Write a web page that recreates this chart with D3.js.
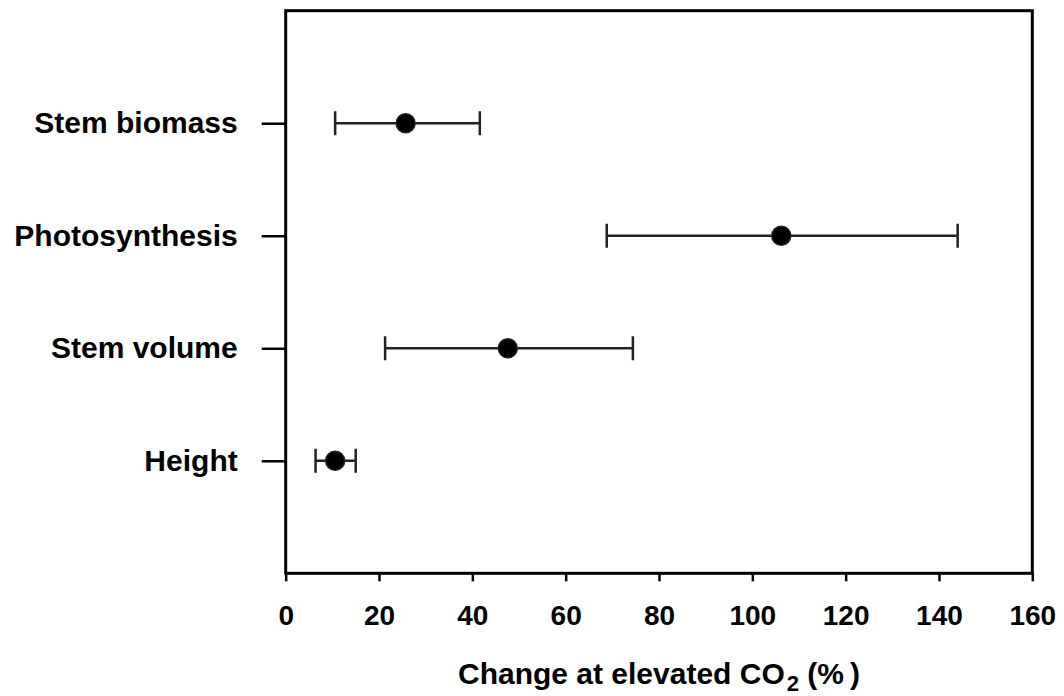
<!DOCTYPE html>
<html>
<head>
<meta charset="utf-8">
<script src="https://cdn.jsdelivr.net/npm/d3@7"></script>
<style>
    body { margin: 0; background: #fff; }
    text { font-family: "Liberation Sans", Arial, sans-serif; font-weight: bold; fill: #000; }
</style>
</head>
<body>
<div class="canvas"></div>
<script>
// data (top to bottom)
const categories = ["Stem biomass", "Photosynthesis", "Stem volume", "Height"]
const means = [25.7, 106.2, 47.6, 10.6]
const lower = [10.6, 68.8, 21.3, 6.4]
const upper = [41.6, 144.0, 74.4, 15.0]
const xTicks = [0, 20, 40, 60, 80, 100, 120, 140, 160]

const data = categories.map((c, i) => ({
    cat: c,
    mean: means[i],
    lo: lower[i],
    hi: upper[i]
}))

const svg = d3.select(".canvas")
    .append("svg")
    .attr("width", 1064)
    .attr("height", 696)

const margin = { top: 10.7, left: 285.7, right: 31.7, bottom: 122.7 }
const graphWidth = 1064 - margin.left - margin.right
const graphHeight = 696 - margin.top - margin.bottom

const graph = svg.append("g")
    .attr("transform", `translate(${margin.left}, ${margin.top})`)

const scaleX = d3.scaleLinear()
    .domain([0, 160])
    .range([0, graphWidth])

const scaleY = d3.scalePoint()
    .domain(categories)
    .range([0, graphHeight])
    .padding(1)

// x axis
const xAxisGroup = graph.append("g")
    .attr("transform", `translate(0, ${graphHeight})`)
    .call(d3.axisBottom(scaleX).tickValues(xTicks).tickSize(8).tickSizeOuter(0).tickPadding(24))
xAxisGroup.select(".domain").remove()
xAxisGroup.selectAll("line").attr("stroke", "#000").attr("stroke-width", 2.5)
xAxisGroup.selectAll("text")
    .attr("font-size", 28)
    .attr("font-family", null)
    .attr("fill", "#000")

// y axis
const yAxisGroup = graph.append("g")
    .call(d3.axisLeft(scaleY).tickSize(24).tickSizeOuter(0).tickPadding(24))
yAxisGroup.select(".domain").remove()
yAxisGroup.selectAll("line").attr("stroke", "#000").attr("stroke-width", 2.5)
yAxisGroup.selectAll("text")
    .attr("font-size", 30)
    .attr("font-family", null)
    .attr("fill", "#000")

// frame
graph.append("rect")
    .attr("width", graphWidth)
    .attr("height", graphHeight)
    .attr("fill", "none")
    .attr("stroke", "#000")
    .attr("stroke-width", 3)

// error bars
const bars = graph.selectAll(".err")
    .data(data)
    .enter()
    .append("g")
    .attr("class", "err")
    .attr("transform", d => `translate(0, ${scaleY(d.cat)})`)

bars.append("line")
    .attr("x1", d => scaleX(d.lo))
    .attr("x2", d => scaleX(d.hi))
    .attr("stroke", "#222")
    .attr("stroke-width", 2.5)

bars.selectAll(".cap")
    .data(d => [d.lo, d.hi])
    .enter()
    .append("line")
    .attr("class", "cap")
    .attr("x1", v => scaleX(v))
    .attr("x2", v => scaleX(v))
    .attr("y1", -12)
    .attr("y2", 12)
    .attr("stroke", "#222")
    .attr("stroke-width", 2.5)

bars.append("circle")
    .attr("cx", d => scaleX(d.mean))
    .attr("r", 9.5)
    .attr("fill", "#000")
    .attr("stroke", "#222")
    .attr("stroke-width", 1.5)

// axis title
const title = svg.append("text")
    .attr("x", margin.left + graphWidth / 2)
    .attr("y", 684)
    .attr("text-anchor", "middle")
    .attr("font-size", 30)
title.append("tspan").text("Change at elevated CO")
title.append("tspan").attr("font-size", 22).attr("dx", 2).attr("dy", 7).text("2")
title.append("tspan").attr("dy", -7).text(" (%\u2009)")
</script>
</body>
</html>
